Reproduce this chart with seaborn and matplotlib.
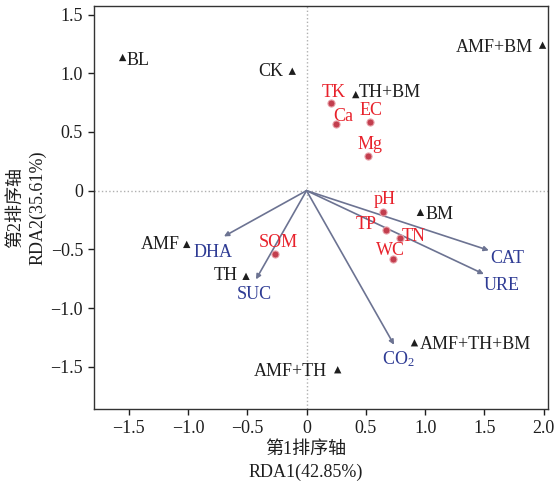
import matplotlib
matplotlib.use("Agg")
import matplotlib.pyplot as plt
import seaborn as sns
import pandas as pd

# ---- data ----
samples = ['BL', 'CK', 'TH+BM', 'AMF+BM', 'BM', 'AMF', 'TH', 'AMF+TH', 'AMF+TH+BM']
sample_x = [-1.55, -0.12, 0.415, 1.99, 0.96, -1.01, -0.51, 0.263, 0.91]
sample_y = [1.134, 1.017, 0.818, 1.239, -0.185, -0.458, -0.73, -1.526, -1.296]

env = ['TK', 'Ca', 'EC', 'Mg', 'pH', 'TP', 'TN', 'WC', 'SOM']
env_x = [0.21, 0.249, 0.538, 0.519, 0.646, 0.668, 0.789, 0.73, -0.266]
env_y = [0.75, 0.565, 0.585, 0.295, -0.182, -0.336, -0.40, -0.58, -0.537]

enz = ['DHA', 'SUC', 'CAT', 'URE', 'CO$_2$']
enz_x = [-0.696, -0.426, 1.537, 1.495, 0.738]
enz_y = [-0.39, -0.756, -0.509, -0.711, -1.313]

xticks = [-1.5, -1.0, -0.5, 0, 0.5, 1.0, 1.5, 2.0]
xtick_labels = ['\u22121.5', '\u22121.0', '\u22120.5', '0', '0.5', '1.0', '1.5', '2.0']
yticks = [-1.5, -1.0, -0.5, 0, 0.5, 1.0, 1.5]
ytick_labels = ['\u22121.5', '\u22121.0', '\u22120.5', '0', '0.5', '1.0', '1.5']

# ---- label placement (pixels) ----
sample_off = {'BL': (4, -7.7, 'left'), 'CK': (-9, -5, 'right'), 'TH+BM': (2.5, -2.4, 'left'),
              'AMF+BM': (-9.5, -7.3, 'right'), 'BM': (5, -6.3, 'left'), 'AMF': (-6.7, -4.3, 'right'),
              'TH': (-8.7, -3.3, 'right'), 'AMF+TH': (-10.4, -6.7, 'right'),
              'AMF+TH+BM': (5.7, -6.7, 'left')}
env_off = {'TK': (2, 5.6, 'center'), 'Ca': (7, 3.3, 'center'), 'EC': (0.7, 6.7, 'center'),
           'Mg': (2, 6.7, 'center'), 'pH': (2, 8.4, 'center'), 'TP': (-9, 1.4, 'right'),
           'TN': (2, -3.4, 'left'), 'WC': (-2.5, 3.3, 'center'), 'SOM': (3.5, 7, 'center')}
enz_off = {'DHA': (-10.7, -20.7, 'center'), 'SUC': (-2, -20, 'center'), 'CAT': (1.3, -12.7, 'left'),
           'URE': (0, -15.6, 'left'), 'CO$_2$': (4.7, -19.7, 'center')}

sns.set_style('ticks')
plt.rcParams['font.family'] = ['Liberation Serif', 'Noto Sans CJK SC']
plt.rcParams['mathtext.default'] = 'regular'
plt.rcParams['axes.unicode_minus'] = True

FS = 13
BLACK = '#1e1e1e'
RED = '#e8222c'
DOT = '#c23e4e'
BLUE = '#2e3b94'
ARROW = '#6c7392'

fig = plt.figure(figsize=(5.54, 4.86), dpi=100)
ax = fig.add_axes([0.170, 0.158, 0.819, 0.830])

df_s = pd.DataFrame({'x': sample_x, 'y': sample_y, 'name': samples})
df_e = pd.DataFrame({'x': env_x, 'y': env_y, 'name': env})

ax.axhline(0, color='#b0b0b0', lw=1.0, ls=':', zorder=0)
ax.axvline(0, color='#b0b0b0', lw=1.0, ls=':', zorder=0)

for name, x, y in zip(enz, enz_x, enz_y):
    ax.annotate('', xy=(x, y), xytext=(0, 0),
                arrowprops=dict(arrowstyle='-|>', color=ARROW, lw=1.2,
                                mutation_scale=7, shrinkA=0, shrinkB=0), zorder=2)
    dx, dy, ha = enz_off[name]
    ax.annotate(name, xy=(x, y), xytext=(dx, dy), textcoords='offset pixels',
                ha=ha, va='baseline', color=BLUE, fontsize=FS)

sns.scatterplot(data=df_s, x='x', y='y', marker='^', color=BLACK, s=28,
                edgecolor='none', ax=ax, zorder=3)
sns.scatterplot(data=df_e, x='x', y='y', marker='o', color=DOT, s=26,
                edgecolor='#e8a0a8', linewidth=0.8, ax=ax, zorder=3)

for name, x, y in zip(samples, sample_x, sample_y):
    dx, dy, ha = sample_off[name]
    ax.annotate(name, xy=(x, y), xytext=(dx, dy), textcoords='offset pixels',
                ha=ha, va='baseline', color=BLACK, fontsize=FS)
for name, x, y in zip(env, env_x, env_y):
    dx, dy, ha = env_off[name]
    ax.annotate(name, xy=(x, y), xytext=(dx, dy), textcoords='offset pixels',
                ha=ha, va='baseline', color=RED, fontsize=FS)

ax.set_xlim(-1.79, 2.035)
ax.set_ylim(-1.862, 1.574)
ax.set_xticks(xticks)
ax.set_xticklabels(xtick_labels)
ax.set_yticks(yticks)
ax.set_yticklabels(ytick_labels)
ax.tick_params(axis='both', direction='out', length=4, width=1, labelsize=FS,
               colors=BLACK, pad=4)
for sp in ax.spines.values():
    sp.set_visible(True)
    sp.set_color('#333333')
    sp.set_linewidth(1.0)

ax.set_xlabel('第1排序轴\nRDA1(42.85%)', fontsize=FS, color=BLACK, linespacing=1.45)
ax.xaxis.set_label_coords(0.467, -0.078, transform=ax.transAxes)
ax.xaxis.label.set_va('top')
ax.set_ylabel('第2排序轴\nRDA2(35.61%)', fontsize=FS, color=BLACK, linespacing=1.45)
ax.yaxis.set_label_coords(-0.104, 0.5, transform=ax.transAxes)
ax.yaxis.label.set_va('bottom')

fig.savefig('out.png', dpi=100)
